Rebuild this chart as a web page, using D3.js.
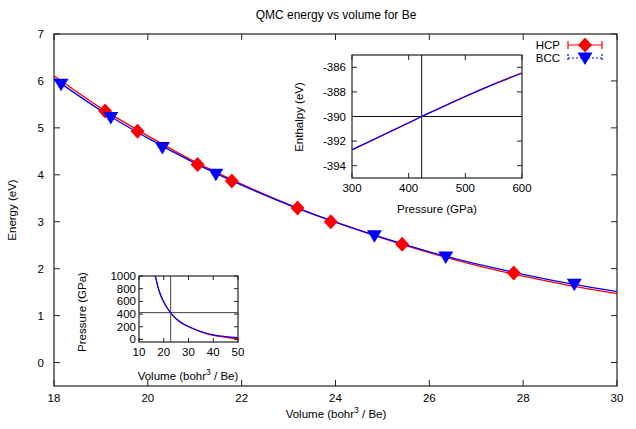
<!DOCTYPE html>
<html>
<head>
<meta charset="utf-8">
<script src="https://cdn.jsdelivr.net/npm/d3@7"></script>
<style>
  body { margin: 0; background: #fff; }
  svg { font-family: "Liberation Sans", Arial, sans-serif; }
</style>
</head>
<body>
<svg id="chart" width="636" height="429"></svg>
<script>
// main plot: energy vs volume
const hcpVol = [19.09, 19.78, 21.06, 21.79, 23.19, 23.90, 25.42, 27.80];
const hcpE = [5.36, 4.93, 4.22, 3.87, 3.29, 3.00, 2.52, 1.91];
const bccVol = [18.15, 19.21, 20.31, 21.45, 24.83, 26.35, 29.09];
const bccE = [5.93, 5.22, 4.58, 4.01, 2.70, 2.25, 1.67];

// fitted curves
const fitVol = [18, 19, 20, 21, 22, 23, 24, 25, 26, 27, 28, 29, 30];
const hcpFit = [6.11, 5.42, 4.83, 4.28, 3.80, 3.37, 2.99, 2.65, 2.34, 2.07, 1.84, 1.64, 1.47];
const bccFit = [6.05, 5.37, 4.78, 4.25, 3.78, 3.36, 2.99, 2.66, 2.36, 2.10, 1.88, 1.68, 1.51];

// inset: pressure vs volume
const pressVol = [16, 17, 18, 20, 22, 24, 26, 28, 30, 35, 40, 45, 50];
const hcpPress = [1100, 930, 780, 590, 460, 365, 295, 240, 200, 120, 64, 34, 12];
const bccPress = [1100, 930, 780, 590, 460, 365, 295, 242, 204, 126, 72, 46, 30];

// inset: enthalpy vs pressure
const enthP = [300, 350, 400, 423, 450, 500, 550, 600];
const hcpH = [-392.72, -391.62, -390.52, -390.0, -389.42, -388.36, -387.36, -386.44];
const bccH = [-392.70, -391.60, -390.51, -390.0, -389.43, -388.38, -387.39, -386.48];

const transP = 423;
const transV = 22.8;
const transH = -390;

const mainXTicks = [18, 20, 22, 24, 26, 28, 30];
const mainYTicks = [0, 1, 2, 3, 4, 5, 6, 7];
const hXTicks = [300, 400, 500, 600];
const hYTicks = [-394, -392, -390, -388, -386];
const pXTicks = [10, 20, 30, 40, 50];
const pYTicks = [0, 200, 400, 600, 800, 1000];

const RED = '#ff0000';
const BLUE = '#0000ff';

const svg = d3.select('#chart');
const defs = svg.append('defs');

// draw a gnuplot style box: border + inward ticks mirrored on all sides
function drawFrame(g, x, y, xticks, yticks, fs, tickLen, labelOff) {
  const [x0, x1] = x.range();
  const [y0, y1] = y.range();
  g.append('rect')
    .attr('x', x0).attr('y', y1)
    .attr('width', x1 - x0).attr('height', y0 - y1)
    .attr('fill', 'none').attr('stroke', '#222').attr('stroke-width', 1.2);
  xticks.forEach((t) => {
    const px = x(t);
    g.append('line').attr('x1', px).attr('x2', px).attr('y1', y0).attr('y2', y0 - tickLen)
      .attr('stroke', '#222');
    g.append('line').attr('x1', px).attr('x2', px).attr('y1', y1).attr('y2', y1 + tickLen)
      .attr('stroke', '#222');
    g.append('text').attr('x', px).attr('y', y0 + labelOff.x)
      .attr('text-anchor', 'middle').attr('font-size', fs).text(t);
  });
  yticks.forEach((t) => {
    const py = y(t);
    g.append('line').attr('x1', x0).attr('x2', x0 + tickLen).attr('y1', py).attr('y2', py)
      .attr('stroke', '#222');
    g.append('line').attr('x1', x1).attr('x2', x1 - tickLen).attr('y1', py).attr('y2', py)
      .attr('stroke', '#222');
    g.append('text').attr('x', x0 - labelOff.y).attr('y', py).attr('dy', '0.35em')
      .attr('text-anchor', 'end').attr('font-size', fs).text(t);
  });
}

function clipFor(id, x, y) {
  const [x0, x1] = x.range();
  const [y0, y1] = y.range();
  defs.append('clipPath').attr('id', id)
    .append('rect').attr('x', x0).attr('y', y1).attr('width', x1 - x0).attr('height', y0 - y1);
  return `url(#${id})`;
}

// ---------- main plot ----------
const x = d3.scaleLinear().domain([18, 30]).range([54, 617]);
const y = d3.scaleLinear().domain([-0.5, 7]).range([386, 34]);

svg.append('text').attr('x', 336).attr('y', 19).attr('text-anchor', 'middle')
  .attr('font-size', 12).text('QMC energy vs volume for Be');

const main = svg.append('g');
drawFrame(main, x, y, mainXTicks, mainYTicks, 11.5, 6, { x: 16, y: 10 });

const xl = main.append('text').attr('x', 336).attr('y', 418)
  .attr('text-anchor', 'middle').attr('font-size', 11.5);
xl.append('tspan').text('Volume (bohr');
xl.append('tspan').attr('dy', -5).attr('font-size', 8.5).text('3');
xl.append('tspan').attr('dy', 5).text(' / Be)');

main.append('text').attr('transform', 'translate(16,210) rotate(-90)')
  .attr('text-anchor', 'middle').attr('font-size', 11.5).text('Energy (eV)');

const mainClip = clipFor('mainclip', x, y);
const fitLine = (vals) => d3.line()
  .x((d, i) => x(fitVol[i]))
  .y((d) => y(d))
  .curve(d3.curveMonotoneX)(vals);

main.append('path').attr('d', fitLine(hcpFit)).attr('fill', 'none')
  .attr('stroke', RED).attr('stroke-width', 1.3).attr('clip-path', mainClip);
main.append('path').attr('d', fitLine(bccFit)).attr('fill', 'none')
  .attr('stroke', BLUE).attr('stroke-width', 1.3).attr('clip-path', mainClip);

const diamond = 'M0,-7.5L7,0L0,7.5L-7,0Z';
const triDown = 'M-7.5,-5.5L7.5,-5.5L0,7Z';

main.selectAll('.hcp')
  .data(hcpVol)
  .enter()
  .append('path')
  .attr('d', diamond)
  .attr('transform', (d, i) => `translate(${x(d)},${y(hcpE[i])})`)
  .attr('fill', RED);

main.selectAll('.bcc')
  .data(bccVol)
  .enter()
  .append('path')
  .attr('d', triDown)
  .attr('transform', (d, i) => `translate(${x(d)},${y(bccE[i])})`)
  .attr('fill', BLUE);

// legend
const leg = svg.append('g').attr('font-size', 11.5);
leg.append('text').attr('x', 560).attr('y', 45).attr('dy', '0.35em')
  .attr('text-anchor', 'end').text('HCP');
leg.append('text').attr('x', 560).attr('y', 58).attr('dy', '0.35em')
  .attr('text-anchor', 'end').text('BCC');
leg.append('line').attr('x1', 568).attr('x2', 602).attr('y1', 45).attr('y2', 45)
  .attr('stroke', RED).attr('stroke-width', 1.2);
[568, 602].forEach((px) => {
  leg.append('line').attr('x1', px).attr('x2', px).attr('y1', 41).attr('y2', 49)
    .attr('stroke', RED).attr('stroke-width', 1.2);
  leg.append('line').attr('x1', px).attr('x2', px).attr('y1', 54).attr('y2', 62)
    .attr('stroke', BLUE).attr('stroke-width', 1.2).attr('stroke-dasharray', '2,2');
});
leg.append('line').attr('x1', 568).attr('x2', 602).attr('y1', 58).attr('y2', 58)
  .attr('stroke', BLUE).attr('stroke-width', 1.2).attr('stroke-dasharray', '2,2');
leg.append('path').attr('d', diamond).attr('transform', 'translate(585,45)').attr('fill', RED);
leg.append('path').attr('d', triDown).attr('transform', 'translate(585,58)').attr('fill', BLUE);

// ---------- inset: enthalpy vs pressure ----------
const hx = d3.scaleLinear().domain([300, 600]).range([352, 522]);
const hy = d3.scaleLinear().domain([-395, -385]).range([178, 55]);
const ins1 = svg.append('g');
ins1.append('rect').attr('x', 352).attr('y', 55).attr('width', 170).attr('height', 123)
  .attr('fill', '#fff');
drawFrame(ins1, hx, hy, hXTicks, hYTicks, 11.5, 5, { x: 14, y: 6 });
ins1.append('line').attr('x1', hx(transP)).attr('x2', hx(transP))
  .attr('y1', hy(-395)).attr('y2', hy(-385)).attr('stroke', '#111');
ins1.append('line').attr('x1', hx(300)).attr('x2', hx(600))
  .attr('y1', hy(transH)).attr('y2', hy(transH)).attr('stroke', '#111');
const h1clip = clipFor('h1clip', hx, hy);
const hLine = (vals) => d3.line()
  .x((d, i) => hx(enthP[i]))
  .y((d) => hy(d))
  .curve(d3.curveMonotoneX)(vals);
ins1.append('path').attr('d', hLine(hcpH)).attr('fill', 'none')
  .attr('stroke', RED).attr('stroke-width', 1.2).attr('clip-path', h1clip);
ins1.append('path').attr('d', hLine(bccH)).attr('fill', 'none')
  .attr('stroke', BLUE).attr('stroke-width', 1.2).attr('clip-path', h1clip);
ins1.append('text').attr('transform', 'translate(303,117) rotate(-90)')
  .attr('text-anchor', 'middle').attr('font-size', 11.5).text('Enthalpy (eV)');
ins1.append('text').attr('x', 437).attr('y', 213)
  .attr('text-anchor', 'middle').attr('font-size', 11.5).text('Pressure (GPa)');

// ---------- inset: pressure vs volume ----------
const px = d3.scaleLinear().domain([10, 50]).range([139, 238]);
const py = d3.scaleLinear().domain([-40, 1000]).range([342, 276]);
const ins2 = svg.append('g');
ins2.append('rect').attr('x', 139).attr('y', 276).attr('width', 99).attr('height', 66)
  .attr('fill', '#fff');
drawFrame(ins2, px, py, pXTicks, pYTicks, 11.5, 4, { x: 14, y: 3 });
ins2.append('line').attr('x1', px(transV)).attr('x2', px(transV))
  .attr('y1', py(-40)).attr('y2', py(1000)).attr('stroke', '#444');
ins2.append('line').attr('x1', px(10)).attr('x2', px(50))
  .attr('y1', py(transP)).attr('y2', py(transP)).attr('stroke', '#444');
const p2clip = clipFor('p2clip', px, py);
const pLine = (vals) => d3.line()
  .x((d, i) => px(pressVol[i]))
  .y((d) => py(d))
  .curve(d3.curveMonotoneX)(vals);
ins2.append('path').attr('d', pLine(hcpPress)).attr('fill', 'none')
  .attr('stroke', RED).attr('stroke-width', 1.2).attr('clip-path', p2clip);
ins2.append('path').attr('d', pLine(bccPress)).attr('fill', 'none')
  .attr('stroke', BLUE).attr('stroke-width', 1.2).attr('clip-path', p2clip);
ins2.append('text').attr('transform', 'translate(86,312) rotate(-90)')
  .attr('text-anchor', 'middle').attr('font-size', 11.5).text('Pressure (GPa)');
const xl2 = ins2.append('text').attr('x', 188).attr('y', 380)
  .attr('text-anchor', 'middle').attr('font-size', 11.5);
xl2.append('tspan').text('Volume (bohr');
xl2.append('tspan').attr('dy', -5).attr('font-size', 8.5).text('3');
xl2.append('tspan').attr('dy', 5).text(' / Be)');
</script>
</body>
</html>
